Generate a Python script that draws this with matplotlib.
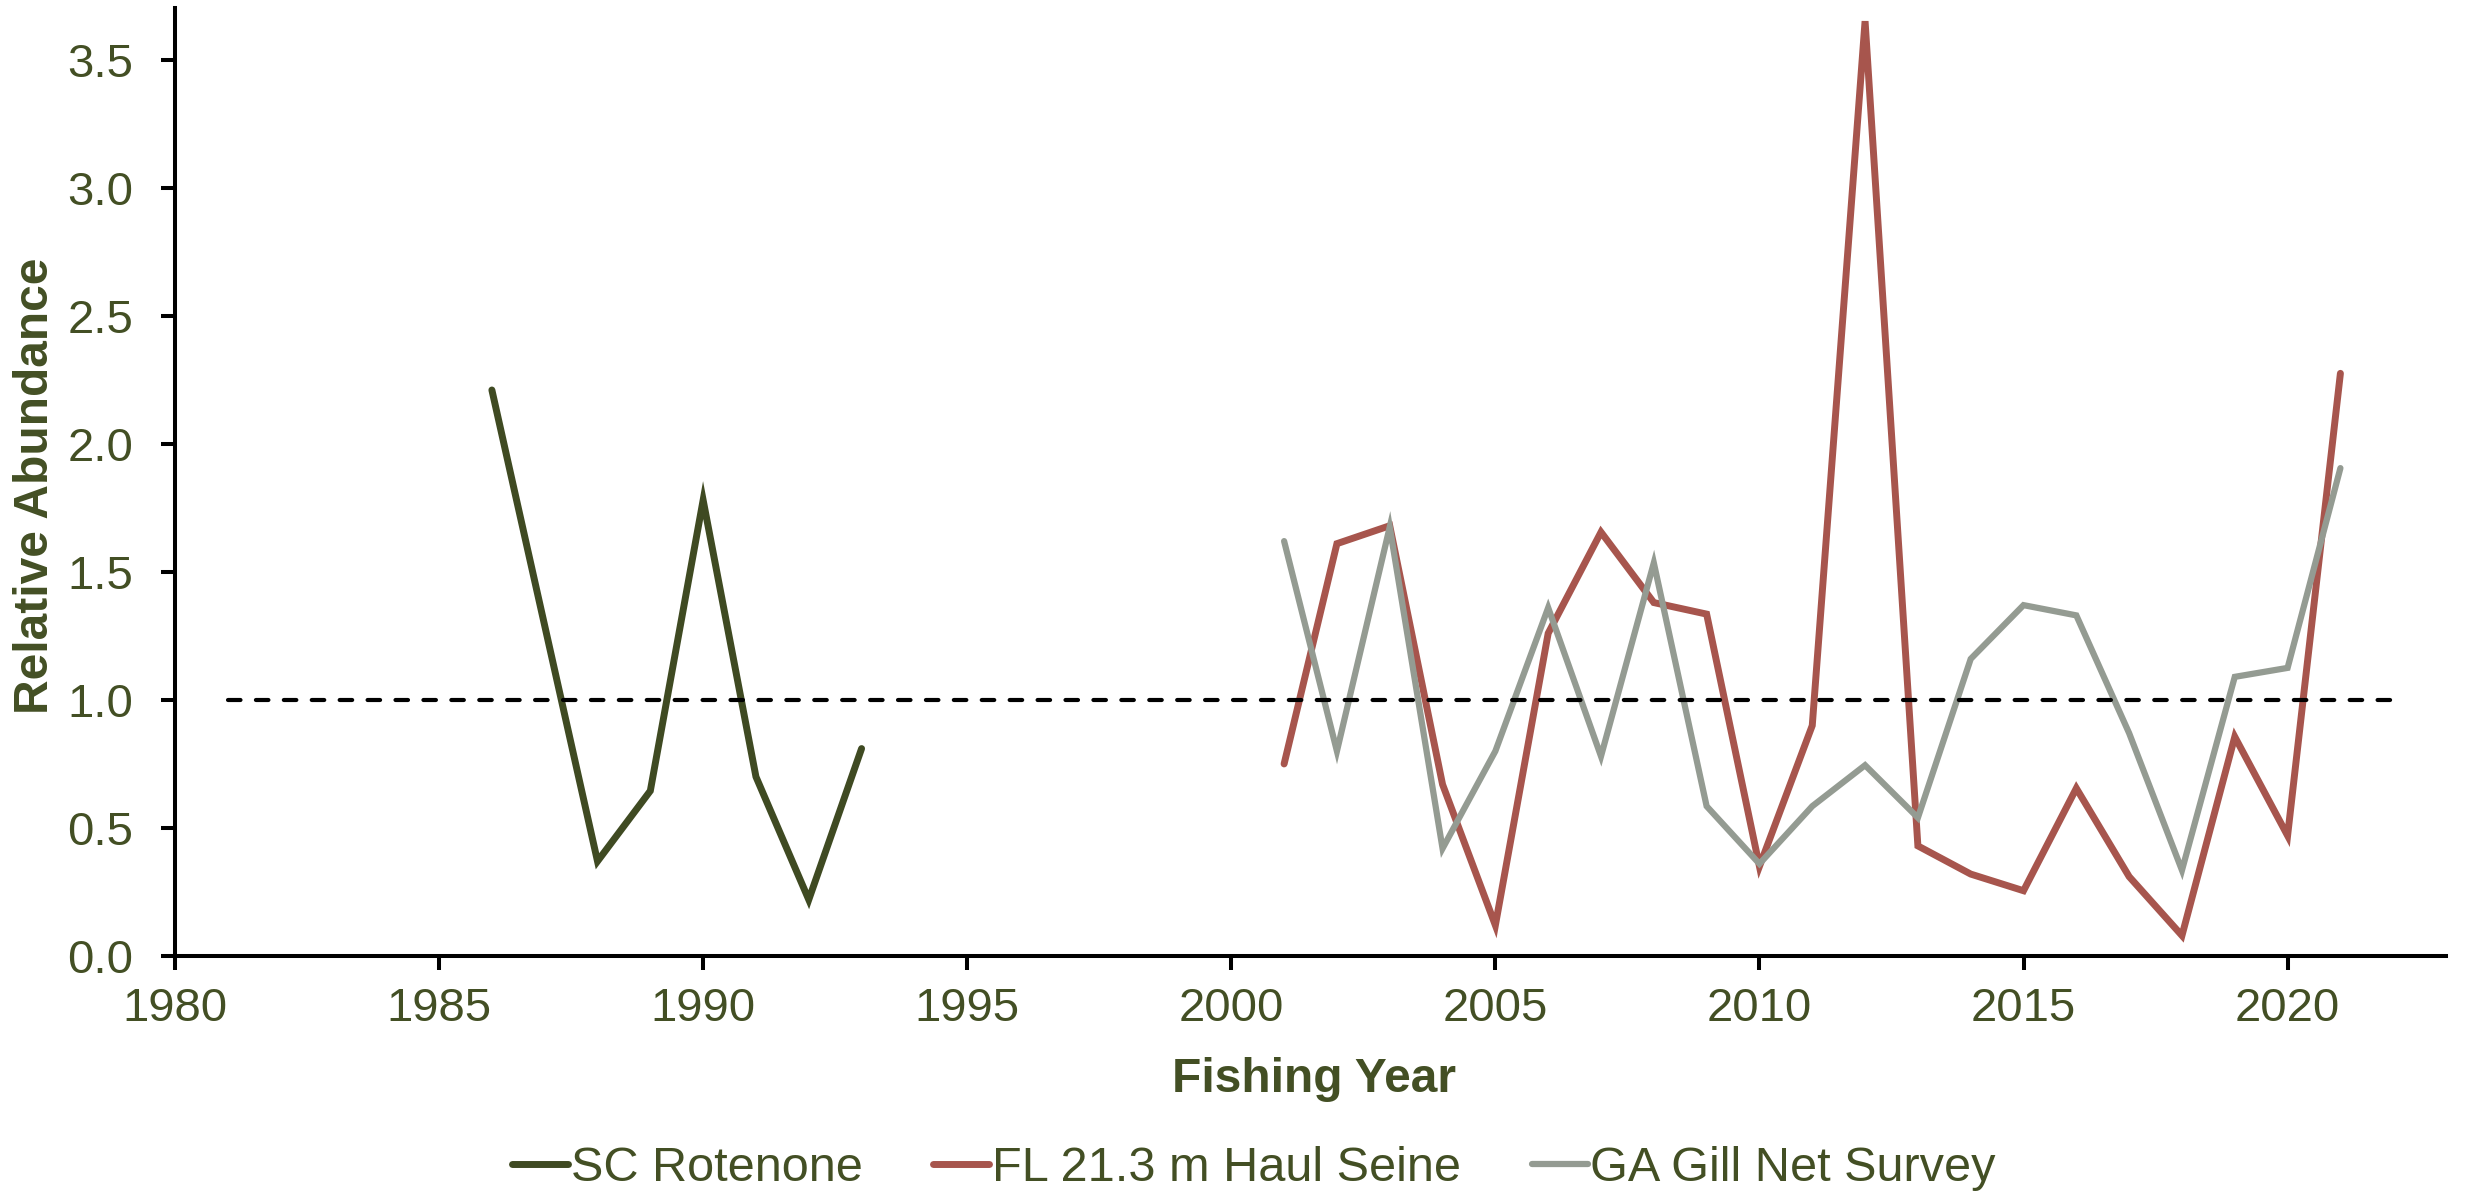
import matplotlib
matplotlib.use("Agg")
import matplotlib.pyplot as plt

# Data
sc_years = [1986, 1987, 1988, 1989, 1990, 1991, 1992, 1993]
sc_values = [2.21, 1.29, 0.37, 0.645, 1.78, 0.70, 0.22, 0.81]

fl_years = list(range(2001, 2022))
fl_values = [0.75, 1.61, 1.68, 0.67, 0.12, 1.26, 1.655, 1.38, 1.335, 0.35, 0.90,
             3.65, 0.43, 0.32, 0.255, 0.655, 0.31, 0.08, 0.856, 0.47, 2.275]

ga_years = list(range(2001, 2022))
ga_values = [1.62, 0.80, 1.675, 0.42, 0.80, 1.36, 0.78, 1.535, 0.585, 0.36, 0.585,
             0.745, 0.54, 1.16, 1.37, 1.33, 0.87, 0.335, 1.09, 1.125, 1.905]

ref_years = [1981, 2022]
ref_values = [1.0, 1.0]

x_ticks = [1980, 1985, 1990, 1995, 2000, 2005, 2010, 2015, 2020]
y_ticks = [0.0, 0.5, 1.0, 1.5, 2.0, 2.5, 3.0, 3.5]

text_color = "#434F24"
sc_color = "#3F4A22"
fl_color = "#A7554D"
ga_color = "#949B92"

plt.rcParams["font.family"] = ["Liberation Sans", "DejaVu Sans"]
plt.rcParams["font.size"] = 34

fig = plt.figure(figsize=(24.75, 11.94), dpi=100)
ax = fig.add_axes([0.0707, 0.1993, 0.9176, 0.7937])

line_kw = dict(solid_joinstyle="miter", solid_capstyle="round")
ax.plot(sc_years, sc_values, color=sc_color, lw=5.0, label="SC Rotenone", **line_kw)
ax.plot(fl_years, fl_values, color=fl_color, lw=5.0, label="FL 21.3 m Haul Seine", **line_kw)
ax.plot(ga_years, ga_values, color=ga_color, lw=4.5, label="GA Gill Net Survey", **line_kw)
ax.plot(ref_years, ref_values, color="black", lw=3, linestyle=(0, (3, 3.7)),
        dash_capstyle="round")

ax.set_xlim(1980, 2023)
ax.set_ylim(0, 3.7)
ax.set_xticks(x_ticks)
ax.set_yticks(y_ticks)
ax.set_yticklabels([f"{v:.1f}" for v in y_ticks])

for side in ["top", "right"]:
    ax.spines[side].set_visible(False)
for side in ["left", "bottom"]:
    ax.spines[side].set_linewidth(2.9)

ax.tick_params(axis="both", direction="out", length=10, width=2.9,
               colors="black", labelcolor=text_color, labelsize=34)
ax.tick_params(axis="y", pad=20)
ax.tick_params(axis="x", pad=12)

fig.text(0.5309, 1 - 1092 / 1194, "Fishing Year", ha="center", va="baseline",
         fontsize=34.5, fontweight="bold", color=text_color)
fig.text(0.0145, 1 - 486 / 1194, "Relative Abundance", ha="center", va="center",
         rotation=90, fontsize=34.5, fontweight="bold", color=text_color)

handles, labels = ax.get_legend_handles_labels()
leg = fig.legend(handles, labels, loc="center", bbox_to_anchor=(0.5067, 0.021),
                 ncol=3, frameon=False, fontsize=35, handlelength=1.15,
                 handletextpad=0.06, columnspacing=1.45, borderpad=0)
for t in leg.get_texts():
    t.set_color(text_color)

fig.savefig("out.png", dpi=100)
